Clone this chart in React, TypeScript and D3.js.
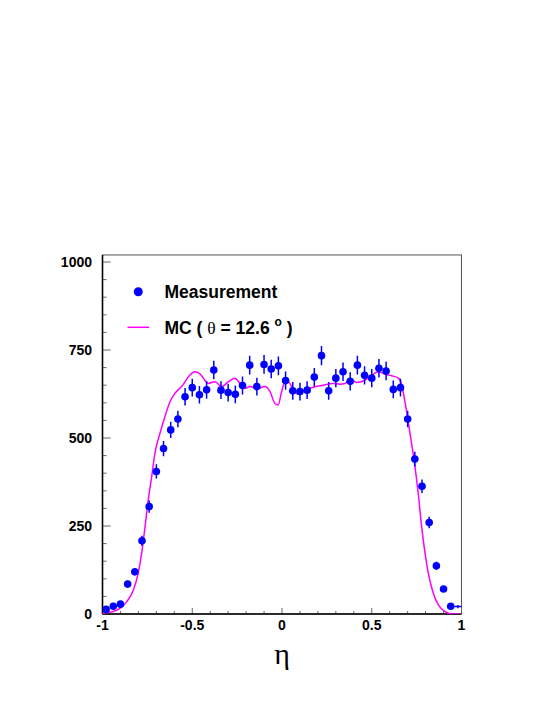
import React from "react";
import * as d3 from "d3";

// Measurement: bin centres (eta) and counts
const dataEta: number[] = d3.range(50).map((i) => -0.98 + i * 0.04);
const dataCounts: number[] = [
  13, 22, 28, 85, 120, 208, 305, 405, 470, 523,
  554, 617, 643, 623, 637, 693, 636, 629, 624, 649,
  707, 646, 709, 696, 705, 663, 634, 632, 636, 673,
  734, 634, 670, 688, 661, 707, 678, 670, 698, 690,
  638, 643, 554, 440, 363, 260, 137, 71, 22, 21,
];

// MC curve (theta = 12.6 deg)
const mcEta: number[] = [
  -1.0, -0.996, -0.94, -0.903, -0.865, -0.828, -0.801, -0.782, -0.763, -0.745,
  -0.726, -0.708, -0.68, -0.652, -0.624, -0.596, -0.559, -0.513, -0.485, -0.457,
  -0.411, -0.373, -0.336, -0.299, -0.262, -0.234, -0.206, -0.178, -0.141, -0.095,
  -0.067, -0.039, -0.021, -0.002, 0.017, 0.035, 0.063, 0.091, 0.119, 0.165,
  0.221, 0.286, 0.323, 0.351, 0.379, 0.416, 0.453, 0.49, 0.537, 0.574,
  0.611, 0.648, 0.667, 0.685, 0.713, 0.741, 0.759, 0.778, 0.797, 0.815,
  0.843, 0.871, 0.908, 0.954, 1.0,
];
const mcValues: number[] = [
  0, 2, 7, 16, 35, 68, 116, 172, 248, 324,
  390, 456, 513, 561, 603, 627, 646, 679, 688, 682,
  655, 660, 646, 660, 670, 655, 641, 646, 641, 646,
  632, 598, 594, 632, 660, 660, 636, 624, 634, 643,
  649, 655, 653, 655, 668, 658, 662, 674, 688, 681,
  677, 670, 651, 603, 513, 418, 343, 248, 172, 116,
  59, 26, 7, 0, 0,
];

const yMajorTicks = [0, 250, 500, 750, 1000];
const xMajorTicks = [-1, -0.5, 0, 0.5, 1];
const xTickLabels = ["-1", "-0.5", "0", "0.5", "1"];

export default function App() {
  const W = 554;
  const H = 717;
  const x = d3.scaleLinear().domain([-1, 1]).range([102.5, 461.5]);
  const y = d3.scaleLinear().domain([0, 1000]).range([614, 262]);
  const yTop = y(1020);

  const yMinor = d3.range(0, 1001, 50);
  const xMinor = d3.range(-10, 11).map((i) => i / 10);

  const line = d3
    .line<number>()
    .x((_, i) => x(mcEta[i]))
    .y((d) => y(d))
    .curve(d3.curveMonotoneX);

  const font = "'Liberation Sans', Arial, Helvetica, sans-serif";
  const blue = "#0000ff";
  const magenta = "#ff00ff";

  return (
    <svg
      width={W}
      height={H}
      viewBox={`0 0 ${W} ${H}`}
      style={{ position: "absolute", left: 0, top: 0, background: "#fff" }}
    >
      <rect x={0} y={0} width={W} height={H} fill="#fff" />
      <defs>
        <clipPath id="frameClip">
          <rect x={x(-1)} y={yTop} width={x(1) - x(-1)} height={y(0) - yTop} />
        </clipPath>
      </defs>

      {/* frame */}
      <rect
        x={x(-1)}
        y={yTop}
        width={x(1) - x(-1)}
        height={y(0) - yTop}
        fill="none"
        stroke="#555"
        strokeWidth={1}
      />

      {/* y ticks */}
      {yMinor.map((v) => {
        const major = v % 250 === 0;
        return (
          <line
            key={"yt" + v}
            x1={x(-1)}
            x2={x(-1) + (major ? 8 : 4)}
            y1={y(v)}
            y2={y(v)}
            stroke="#666"
            strokeWidth={1}
          />
        );
      })}
      {/* x ticks */}
      {xMinor.map((v, i) => {
        const major = i % 5 === 0;
        return (
          <line
            key={"xt" + i}
            x1={x(v)}
            x2={x(v)}
            y1={y(0)}
            y2={y(0) - (major ? 6 : 3)}
            stroke="#666"
            strokeWidth={1}
          />
        );
      })}

      {/* axis lines */}
      <line x1={x(-1)} x2={x(-1)} y1={yTop} y2={y(0)} stroke="#000" strokeWidth={1.6} />
      <line x1={x(-1)} x2={x(1)} y1={y(0)} y2={y(0)} stroke="#000" strokeWidth={1.6} />

      {/* y labels */}
      {yMajorTicks.map((v) => (
        <text
          key={"yl" + v}
          x={92}
          y={y(v) + 5}
          textAnchor="end"
          fontFamily={font}
          fontWeight="bold"
          fontSize={14}
          fill="#000"
        >
          {v}
        </text>
      ))}
      {/* x labels */}
      {xMajorTicks.map((v, i) => (
        <text
          key={"xl" + v}
          x={x(v)}
          y={630}
          textAnchor="middle"
          fontFamily={font}
          fontWeight="bold"
          fontSize={14}
          fill="#000"
        >
          {xTickLabels[i]}
        </text>
      ))}

      {/* axis title */}
      <text
        x={282}
        y={664}
        textAnchor="middle"
        fontFamily="'Liberation Serif', 'Times New Roman', serif"
        fontSize={30}
        fill="#000"
      >
        η
      </text>

      {/* MC curve */}
      <g clipPath="url(#frameClip)">
        <path d={line(mcValues) || ""} fill="none" stroke={magenta} strokeWidth={1.5} />
      </g>

      {/* data */}
      <g clipPath="url(#frameClip)">
        {dataCounts.map((c, i) => {
          const e = Math.sqrt(c);
          const cx = x(dataEta[i]);
          const last = i === dataCounts.length - 1;
          return (
            <g key={"p" + i}>
              <line x1={cx} x2={cx} y1={y(c - e)} y2={y(c + e)} stroke={blue} strokeWidth={1.5} />
              {last ? (
                <line x1={x(dataEta[i] - 0.02)} x2={x(dataEta[i] + 0.02)} y1={y(c)} y2={y(c)} stroke={blue} strokeWidth={1.5} />
              ) : (
                <circle cx={cx} cy={y(c)} r={3.8} fill={blue} />
              )}
            </g>
          );
        })}
      </g>

      {/* legend */}
      <circle cx={138.3} cy={291.7} r={4.5} fill={blue} />
      <text x={164.5} y={297.7} fontFamily={font} fontWeight="bold" fontSize={17.5} fill="#000">
        Measurement
      </text>
      <line x1={127.5} x2={149} y1={327.3} y2={327.3} stroke={magenta} strokeWidth={1.5} />
      <text x={164.5} y={334} fontFamily={font} fontWeight="bold" fontSize={17.5} fill="#000">
        <tspan>MC ( </tspan>
        <tspan fontFamily="'Liberation Serif', 'Times New Roman', serif" fontWeight="normal">θ</tspan>
        <tspan> = 12.6 </tspan>
        <tspan fontSize={12} dy={-8}>o</tspan>
        <tspan dy={8}>{"  )"}</tspan>
      </text>
    </svg>
  );
}
